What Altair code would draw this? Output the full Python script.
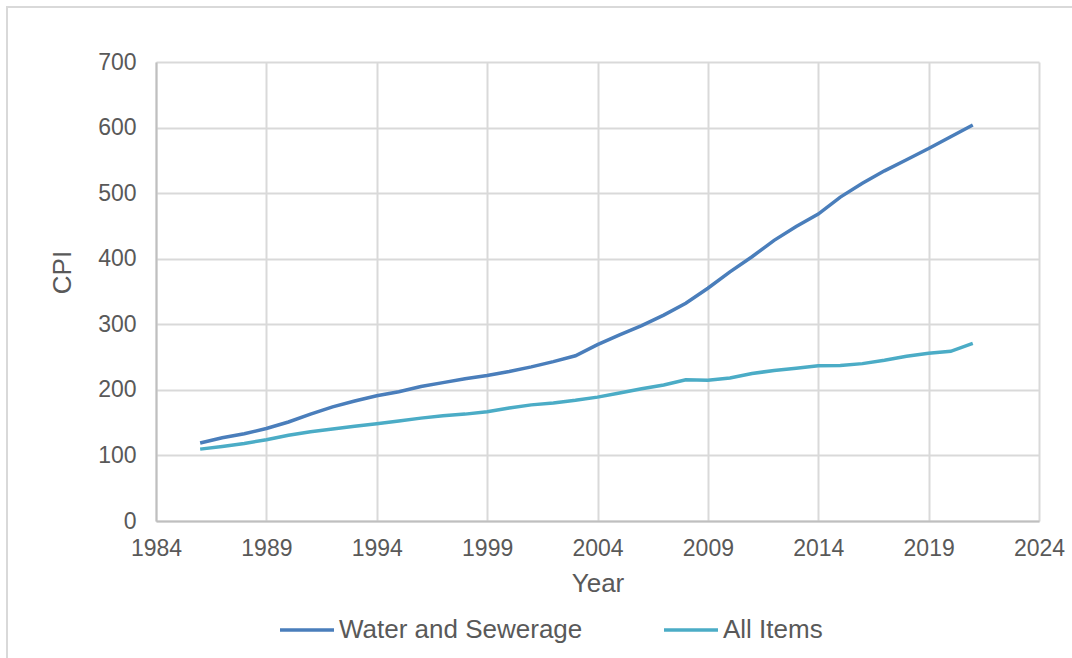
import altair as alt
import pandas as pd

years = list(range(1986, 2022))
water_sewerage = [119, 127, 133, 141, 151, 163, 174, 183, 191, 197, 205, 211,
                  217, 222, 228, 235, 243, 252, 269, 284, 298, 314, 332, 355,
                  380, 403, 428, 449, 468, 494, 515, 534, 551, 568, 586, 604]
all_items = [109.6, 113.6, 118.3, 124.0, 130.7, 136.2, 140.3, 144.5, 148.2, 152.4,
             156.9, 160.5, 163.0, 166.6, 172.2, 177.1, 179.9, 184.0, 188.9, 195.3,
             201.6, 207.3, 215.3, 214.5, 218.1, 224.9, 229.6, 233.0, 236.7, 237.0,
             240.0, 245.1, 251.1, 255.7, 258.8, 271.0]
series_names = ["Water and Sewerage", "All Items"]
series_colors = ["#4a7ebb", "#4bacc6"]
x_ticks = [1984, 1989, 1994, 1999, 2004, 2009, 2014, 2019, 2024]
y_ticks = [0, 100, 200, 300, 400, 500, 600, 700]

df = pd.DataFrame({
    "Year": years * 2,
    "CPI": water_sewerage + all_items,
    "Series": [series_names[0]] * len(years) + [series_names[1]] * len(years),
})

FONT = "Liberation Sans"
TXT = "#595959"

lines = alt.Chart(df).mark_line(strokeWidth=3.5, clip=False).encode(
    x=alt.X("Year:Q", scale=alt.Scale(domain=[1984, 2024], nice=False, zero=False),
            axis=alt.Axis(values=x_ticks, format="d", title="Year",
                          labelFontSize=23, titleFontSize=26, labelPadding=16,
                          titlePadding=10, ticks=False, domainColor="#bfbfbf",
                          domainWidth=2, gridColor="#d9d9d9", gridWidth=2,
                          labelFlush=False, labelOverlap=False,
                          labelColor=TXT, titleColor=TXT, labelFont=FONT,
                          titleFont=FONT, titleFontWeight="normal")),
    y=alt.Y("CPI:Q", scale=alt.Scale(domain=[0, 700], nice=False),
            axis=alt.Axis(values=y_ticks, title="CPI", labelFontSize=23,
                          titleFontSize=26, labelPadding=20, titlePadding=22,
                          titleY=210, ticks=False, domainColor="#bfbfbf", domainWidth=2,
                          gridColor="#d9d9d9", gridWidth=2, labelColor=TXT,
                          labelFlush=False, labelOverlap=False,
                          titleColor=TXT, labelFont=FONT, titleFont=FONT,
                          titleFontWeight="normal")),
    color=alt.Color("Series:N",
                    scale=alt.Scale(domain=series_names, range=series_colors),
                    legend=alt.Legend(title=None, orient="none", direction="horizontal",
                                      legendX=122, legendY=539,
                                      symbolType="stroke", symbolSize=2916,
                                      symbolStrokeWidth=3.5, labelFontSize=26,
                                      labelFont=FONT, labelColor=TXT, labelLimit=0,
                                      labelOffset=3, columnPadding=74)),
)

border = alt.Chart(pd.DataFrame({"a": [0]})).mark_rect(
    fill=None, stroke="#d9d9d9", strokeWidth=2, clip=False
).encode(x=alt.value(-149), x2=alt.value(1000), y=alt.value(-55), y2=alt.value(700))

chart = alt.layer(border, lines).properties(
    width=883, height=459,
    autosize=alt.AutoSizeParams(type="none"),
    padding={"left": 156, "top": 62, "right": 33, "bottom": 137},
    background="white",
).configure_view(stroke=None)

chart.save("out.html", embed_options={"renderer": "svg", "actions": False})
